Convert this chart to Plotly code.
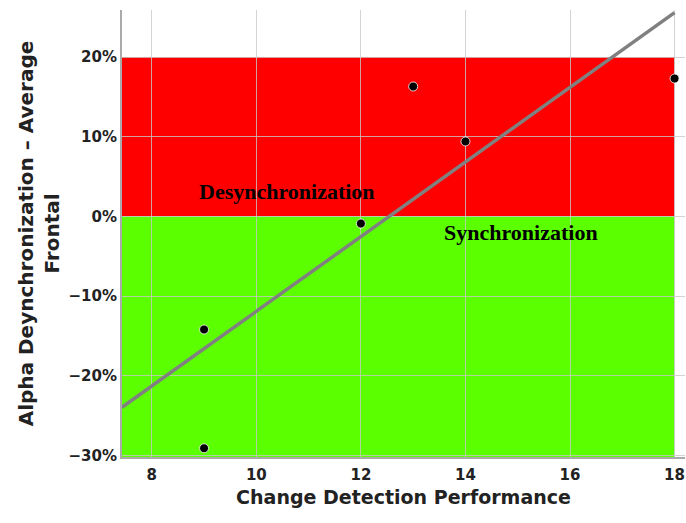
import numpy as np
import plotly.graph_objects as go

performance = [9, 9, 12, 13, 14, 18]
alpha_desync = [-14.2, -29.1, -0.9, 16.3, 9.4, 17.3]  # percent
x_ticks = [8, 10, 12, 14, 16, 18]
y_ticks = [-30, -20, -10, 0, 10, 20]
y_tick_labels = ["\u221230%", "\u221220%", "\u221210%", "0%", "10%", "20%"]

x_range = [7.43, 18.2]
y_range = [-30.2, 25.9]

slope, intercept = np.polyfit(performance, alpha_desync, 1)
fit_x = [x_range[0], 18.0]
fit_y = [slope * v + intercept for v in fit_x]

fig = go.Figure()
fig.add_shape(type="rect", xref="x", yref="y", x0=x_range[0], x1=18, y0=0, y1=20,
              fillcolor="#ff0000", line_width=0, layer="below")
fig.add_shape(type="rect", xref="x", yref="y", x0=x_range[0], x1=18, y0=y_range[0], y1=0,
              fillcolor="#5cff00", line_width=0, layer="below")

fig.add_trace(go.Scatter(x=fit_x, y=fit_y, mode="lines",
                         line=dict(color="#808080", width=3.5), hoverinfo="skip"))
fig.add_trace(go.Scatter(x=performance, y=alpha_desync, mode="markers",
                         marker=dict(color="black", size=9, line=dict(color="white", width=0.8))))

fig.add_annotation(x=10.58, y=3.06, text="<b>Desynchronization</b>", showarrow=False,
                   font=dict(family="Liberation Serif", size=22, color="black"))
fig.add_annotation(x=15.06, y=-2.08, text="<b>Synchronization</b>", showarrow=False,
                   font=dict(family="Liberation Serif", size=22, color="black"))

fig.update_layout(
    width=686, height=523,
    margin=dict(l=122, r=1, t=10, b=66),
    plot_bgcolor="white", paper_bgcolor="white",
    showlegend=False,
    font=dict(family="DejaVu Sans", color="#222222"),
    xaxis=dict(range=x_range, tickvals=x_ticks, showgrid=True, automargin=False,
               gridcolor="rgba(200,200,200,0.8)", gridwidth=1,
               showline=True, linecolor="#aaaaaa", linewidth=2, zeroline=False,
               tickfont=dict(size=15, family="DejaVu Sans", color="#222222", weight="bold"),
               ticks="", ticklabelstandoff=3,
               title=dict(text="<b>Change Detection Performance</b>",
                          font=dict(size=19, color="#222222"), standoff=8)),
    yaxis=dict(range=y_range, tickvals=y_ticks, ticktext=y_tick_labels, showgrid=True,
               automargin=False,
               gridcolor="rgba(200,200,200,0.8)", gridwidth=1,
               showline=True, linecolor="#aaaaaa", linewidth=2, zeroline=False,
               tickfont=dict(size=15, family="DejaVu Sans", color="#222222", weight="bold"),
               ticks="", ticklabelstandoff=0,
               title=dict(text="<b>Alpha Deynchronization – Average<br>Frontal</b>",
                          font=dict(size=20, color="#222222"), standoff=4)),
)

fig.write_html("out.html", config={"displayModeBar": False},
               post_script="document.body.style.margin='0';")
